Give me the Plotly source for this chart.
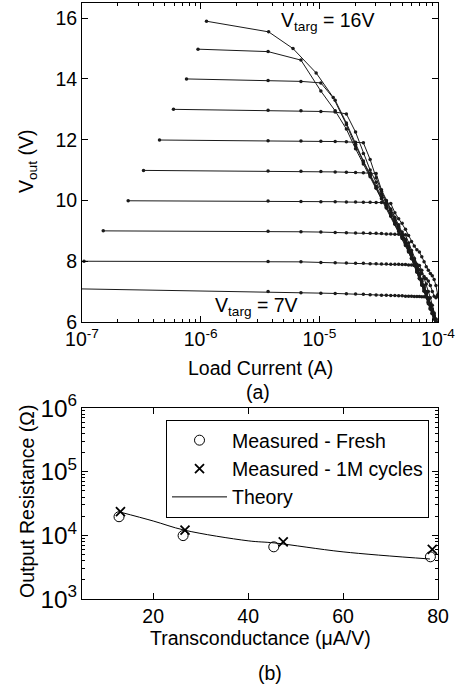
import plotly.graph_objects as go

# ---------------- data: panel (a) ----------------
# common load-current sweep (micro-amps)
I_GRID_UA = [3.7, 7.0, 10.3, 13.6, 16.9, 20.2, 23.5, 26.8, 30.1, 33.4,
             36.7, 40.0, 43.3, 46.6, 49.9, 53.2, 56.5, 59.8, 63.1, 66.4,
             69.7, 73.0, 76.3, 79.6, 82.9, 86.2, 89.5, 92.8, 96.1, 99.4]

# V_targ = 16 V has its own current points (uA)
I16_UA = [1.12, 3.74, 6.0, 9.4, 13.1, 16.9, 20.2, 23.5, 26.8, 30.1, 33.4,
          36.7, 40.0, 43.3, 46.6, 49.9, 53.2, 56.5, 59.8, 63.1, 66.4,
          69.7, 73.0, 76.3, 79.6, 82.9, 86.2, 89.5, 92.8, 96.1, 99.4]
V16 = [15.9, 15.55, 15.0, 14.2, 13.39, 12.5, 11.8, 11.25, 10.82, 10.42, 10.08,
       9.77, 9.5, 9.25, 9.0, 8.78, 8.55, 8.32, 8.1, 7.88, 7.66,
       7.44, 7.23, 7.03, 6.84, 6.65, 6.46, 6.28, 6.1, 5.95, 5.8]

# first (lowest-current) point of every other curve: (uA, V)
START_15 = (0.95, 14.98)
START_14 = (0.76, 14.0)
START_13 = (0.59, 13.0)
START_12 = (0.45, 11.99)
START_11 = (0.33, 10.99)
START_10 = (0.245, 9.99)
START_9 = (0.151, 9.0)
START_8 = (0.104, 8.0)
START_7 = (0.05, 7.11)

# output voltage at the common current grid
V15 = [14.9, 14.62, 13.6, 12.95, 12.35, 11.7, 11.2, 10.78, 10.4, 10.06,
       9.75, 9.48, 9.22, 8.98, 8.75, 8.52, 8.3, 8.08, 7.86, 7.64,
       7.42, 7.21, 7.01, 6.82, 6.63, 6.45, 6.27, 6.1, 5.93, 5.78]
V14 = [13.95, 13.92, 13.87, 13.3, 12.55, 11.85, 11.3, 10.86, 10.46, 10.12,
       9.8, 9.52, 9.27, 9.03, 8.8, 8.58, 8.36, 8.14, 7.92, 7.7,
       7.48, 7.27, 7.07, 6.87, 6.68, 6.49, 6.31, 6.14, 5.97, 5.82]
V13 = [12.97, 12.95, 12.93, 12.91, 12.85, 12.25, 11.55, 11.0, 10.6, 10.22,
       9.9, 9.6, 9.34, 9.1, 8.87, 8.64, 8.42, 8.2, 7.98, 7.76,
       7.54, 7.33, 7.13, 6.93, 6.73, 6.54, 6.36, 6.19, 6.02, 5.87]
V12 = [11.97, 11.96, 11.95, 11.94, 11.93, 11.92, 11.9, 11.35, 10.75, 10.3,
       9.98, 9.68, 9.4, 9.15, 8.9, 8.67, 8.45, 8.23, 8.0, 7.78,
       7.56, 7.35, 7.15, 6.95, 6.75, 6.56, 6.38, 6.2, 6.04, 5.9]
V11 = [10.97, 10.96, 10.95, 10.94, 10.93, 10.92, 10.91, 10.9, 10.89, 10.35,
       10.0, 9.72, 9.45, 9.2, 8.96, 8.72, 8.5, 8.28, 8.05, 7.83,
       7.61, 7.4, 7.2, 7.0, 6.8, 6.61, 6.43, 6.26, 6.09, 5.95]
V10 = [9.98, 9.97, 9.96, 9.96, 9.95, 9.95, 9.94, 9.94, 9.93, 9.93,
       9.92, 9.9, 9.6, 9.4, 9.25, 9.05, 8.85, 8.65, 8.5, 8.38,
       8.3, 8.15, 7.98, 7.82, 7.7, 7.6, 7.52, 7.4, 7.2, 6.9]
V9 = [8.99, 8.97, 8.96, 8.95, 8.94, 8.93, 8.93, 8.92, 8.92, 8.91,
      8.9, 8.9, 8.89, 8.89, 8.88, 8.87, 8.6, 8.35, 8.1, 7.9,
      7.72, 7.6, 7.5, 7.42, 7.35, 7.2, 7.0, 6.85, 6.8, 6.85]
V8 = [7.99, 7.98, 7.96, 7.95, 7.94, 7.93, 7.93, 7.92, 7.92, 7.91,
      7.91, 7.9, 7.9, 7.9, 7.89, 7.89, 7.88, 7.88, 7.87, 7.87,
      7.86, 7.7, 7.45, 7.25, 7.0, 6.8, 6.55, 6.3, 6.1, 5.95]
V7 = [7.0, 6.96, 6.95, 6.94, 6.93, 6.92, 6.91, 6.9, 6.89, 6.88,
      6.88, 6.87, 6.87, 6.86, 6.86, 6.85, 6.85, 6.85, 6.84, 6.84,
      6.84, 6.83, 6.83, 6.83, 6.6, 6.42, 6.28, 6.12, 6.0, 5.9]

# x tick positions / labels of panel (a)
X_TICKS_A = [1e-7, 1e-6, 1e-5, 1e-4]
X_TICKTEXT_A = ["10<sup>-7</sup>", "10<sup>-6</sup>", "10<sup>-5</sup>", "10<sup>-4</sup>"]

# ---------------- data: panel (b) ----------------
GM_FRESH = [12.8, 26.3, 45.4, 78.4]          # uA/V
R_FRESH = [1.96e4, 9.9e3, 6.6e3, 4.6e3]       # Ohm
GM_CYCLED = [13.1, 26.7, 47.4, 78.8]
R_CYCLED = [2.35e4, 1.21e4, 7.9e3, 6.0e3]
GM_THEORY = [13.0, 20.0, 26.5, 40.0, 45.5, 60.0, 78.3]
R_THEORY = [2.32e4, 1.68e4, 1.21e4, 8.2e3, 7.6e3, 5.5e3, 4.25e3]

# ---------------- figure ----------------
FONT = "Liberation Sans, Arial, Helvetica, sans-serif"
FS = 19.5
INK = "#1a1a1a"

fig = go.Figure()

curves = [
    (I16_UA, V16),
    ([START_15[0]] + I_GRID_UA, [START_15[1]] + V15),
    ([START_14[0]] + I_GRID_UA, [START_14[1]] + V14),
    ([START_13[0]] + I_GRID_UA, [START_13[1]] + V13),
    ([START_12[0]] + I_GRID_UA, [START_12[1]] + V12),
    ([START_11[0]] + I_GRID_UA, [START_11[1]] + V11),
    ([START_10[0]] + I_GRID_UA, [START_10[1]] + V10),
    ([START_9[0]] + I_GRID_UA, [START_9[1]] + V9),
    ([START_8[0]] + I_GRID_UA, [START_8[1]] + V8),
    ([START_7[0]] + I_GRID_UA, [START_7[1]] + V7),
]
for cur_ua, volts in curves:
    fig.add_trace(go.Scatter(
        x=[c * 1e-6 for c in cur_ua], y=volts, mode="lines+markers",
        line=dict(color=INK, width=1), marker=dict(color=INK, size=3.5),
        showlegend=False, xaxis="x", yaxis="y"))

fig.add_trace(go.Scatter(
    x=GM_FRESH, y=R_FRESH, mode="markers", name="Measured - Fresh",
    marker=dict(symbol="circle-open", size=10, color="black", line=dict(width=1)),
    xaxis="x2", yaxis="y2"))
fig.add_trace(go.Scatter(
    x=GM_CYCLED, y=R_CYCLED, mode="markers", name="Measured - 1M cycles",
    marker=dict(symbol="x-thin", size=9, color="black",
                line=dict(width=1.8, color="black")),
    xaxis="x2", yaxis="y2"))
fig.add_trace(go.Scatter(
    x=GM_THEORY, y=R_THEORY, mode="lines", name="Theory",
    line=dict(color="black", width=1, shape="spline"),
    xaxis="x2", yaxis="y2"))

axis_common = dict(showgrid=False, zeroline=False, showline=True, linecolor="black",
                   linewidth=1, ticks="inside", ticklen=6, tickwidth=1,
                   tickcolor="black", mirror="ticks", automargin=False,
                   ticklabeloverflow="allow",
                   tickfont=dict(family=FONT, size=FS, color="black"))

TOP_LO = (599 - 322) / 596
BOT_HI = (599 - 408) / 596

fig.update_layout(
    template="none",
    width=457, height=687,
    margin=dict(l=82, r=19, t=3, b=88, autoexpand=False),
    paper_bgcolor="white", plot_bgcolor="white",
    font=dict(family=FONT, size=FS, color="black"),
    xaxis=dict(axis_common, type="log", range=[-7, -4],
               tickmode="array", tickvals=X_TICKS_A, ticktext=X_TICKTEXT_A,
               anchor="y", domain=[0, 1], ticklabelstandoff=0,
               minor=dict(ticks="inside", ticklen=3, dtick="D1", tickcolor="black")),
    yaxis=dict(axis_common, range=[6, 16.5], tickvals=[6, 8, 10, 12, 14, 16],
               anchor="x", domain=[TOP_LO, 1]),
    xaxis2=dict(axis_common, range=[5, 80], tickvals=[20, 40, 60, 80],
                anchor="y2", domain=[0, 1]),
    yaxis2=dict(axis_common, type="log", range=[3, 6], dtick=1,
                exponentformat="power", anchor="x2", domain=[0, BOT_HI],
                minor=dict(ticks="inside", ticklen=3, dtick="D1", tickcolor="black")),
    legend=dict(x=(429 - 82) / 356, y=(599 - 420) / 596, xanchor="right", yanchor="top",
                bordercolor="black", borderwidth=1, bgcolor="white", itemwidth=55,
                font=dict(family=FONT, size=FS), tracegroupgap=0),
)


def px(xp):
    return (xp - 82) / 356


def py(yp):
    return (599 - yp) / 596


notes = [
    ("V<sub>targ</sub> = 16V", 327, 21, 0),
    ("V<sub>targ</sub> = 7V", 256, 306, 0),
    ("Load Current (A)", 260, 368, 0),
    ("(a)", 258, 392, 0),
    ("Transconductance (μA/V)", 260, 638, 0),
    ("(b)", 270, 673, 0),
    ("V<sub>out</sub> (V)", 27, 162, -90),
    ("Output Resistance (Ω)", 27, 502, -90),
]
for txt, xx, yy, ang in notes:
    fig.add_annotation(text=txt, x=px(xx), y=py(yy), xref="paper", yref="paper",
                       showarrow=False, textangle=ang, xanchor="center", yanchor="middle",
                       font=dict(family=FONT, size=FS, color="black"))

fig.write_html("out.html")
